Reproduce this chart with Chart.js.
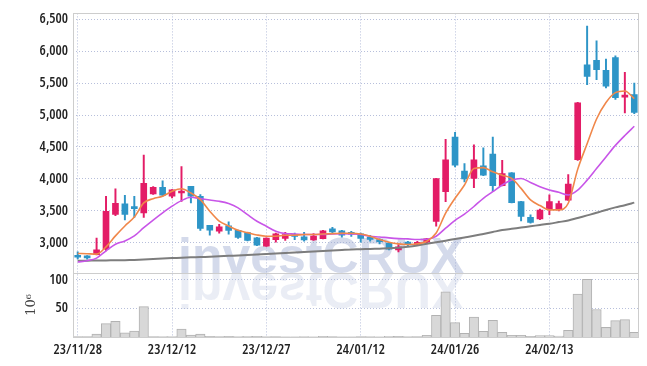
<!DOCTYPE html>
<html>
<head>
<meta charset="utf-8">
<script src="https://cdn.jsdelivr.net/npm/chart.js@4.4.1/dist/chart.umd.min.js"></script>
<style>
    html, body { margin: 0; padding: 0; background: #fff; }
    #wrap { width: 647px; height: 366px; }
</style>
</head>
<body>
<div id="wrap"><canvas id="stock_chart" width="647" height="366"></canvas></div>
<script>
var dates = [
    "23/11/28","23/11/29","23/11/30","23/12/01","23/12/04","23/12/05","23/12/06","23/12/07","23/12/08","23/12/11",
    "23/12/12","23/12/13","23/12/14","23/12/15","23/12/18","23/12/19","23/12/20","23/12/21","23/12/22","23/12/26",
    "23/12/27","23/12/28","24/01/02","24/01/03","24/01/04","24/01/05","24/01/08","24/01/09","24/01/10","24/01/11",
    "24/01/12","24/01/15","24/01/16","24/01/17","24/01/18","24/01/19","24/01/22","24/01/23","24/01/24","24/01/25",
    "24/01/26","24/01/29","24/01/30","24/01/31","24/02/01","24/02/02","24/02/05","24/02/06","24/02/07","24/02/08",
    "24/02/13","24/02/14","24/02/15","24/02/16","24/02/19","24/02/20","24/02/21","24/02/22","24/02/23","24/02/26"
];
var openP = [2800,2790,2815,2900,3445,3610,3540,3470,3765,3870, 3730,3780,3885,3730,3275,3185,3265,3195,3160,3080,
             2950,3050,3070,3110,3095,3045,3065,3220,3190,3145, 3140,3090,3030,2995,2890,2990,2975,3010,3335,3800,
             4655,4125,4010,4205,4390,3895,4095,3645,3400,3375, 3520,3530,3670,4300,5785,5855,5700,5900,5280,5320];
var highP = [2860,2800,3075,3730,3845,3745,3730,4375,3880,3970, 3835,4195,3885,3755,3275,3290,3330,3200,3165,3085,
             3080,3155,3165,3155,3165,3145,3195,3245,3195,3180, 3155,3120,3065,3000,2975,3025,3025,3070,4010,4620,
             4730,4240,4535,4485,4655,4290,4100,3650,3440,3530, 3750,3655,4070,5200,6390,6160,5875,5925,5670,5500];
var lowP  = [2750,2745,2810,2875,3425,3360,3400,3400,3760,3730, 3705,3650,3625,3195,3120,3150,3135,3070,3030,2955,
             2945,3010,3040,3050,3025,3040,3060,3145,3090,3100, 3010,3025,2985,2890,2860,2950,2965,3005,3260,3645,
             4190,3955,3865,4050,3800,3890,3625,3345,3310,3365, 3440,3500,3665,4290,5475,5555,5425,5245,5035,5020];
var closeP = [2775,2765,2890,3495,3620,3445,3535,3930,3870,3745, 3830,3805,3730,3225,3200,3250,3195,3085,3040,2965,
              3075,3140,3130,3100,3045,3105,3190,3170,3120,3135, 3070,3055,3020,2900,2940,2980,3010,3065,4005,4300,
              4215,4000,4300,4060,3895,4085,3630,3415,3320,3515, 3645,3615,3920,5190,5605,5710,5450,5270,5290,5040];
// volume in millions
var volume = [0.8,0.8,5,23.5,27.5,7.5,10.5,53,0.8,0.6, 0.6,14,3.5,5,1,0.8,1,0.6,1.2,1,
              0.6,0.8,0.5,0.5,0.6,0.5,1,0.8,0.5,0.5, 0.8,0.6,0.5,1.2,1,0.6,0.8,3,38,79,
              25,6.3,35,10,29,8,3,3,1,2.5, 2.5,1.5,11.5,75,101,48,16.7,28.7,30.5,8];
var ma5  = [2835,2830,2824,2938,3109,3264,3403,3625,3692,3729, 3806,3847,3780,3677,3496,3341,3264,3196,3160,3124,
            3104,3104,3119,3119,3130,3130,3140,3145,3150,3150, 3140,3104,3052,3011,2985,2975,2985,3026,3155,3465,
            3698,3905,4163,4178,4111,4059,4008,3853,3672,3584, 3517,3517,3620,4150,4550,4938,5196,5351,5377,5258];
var ma20 = [2700,2721,2762,2876,2979,3031,3109,3238,3357,3470, 3574,3661,3713,3692,3670,3650,3615,3548,3442,3339,
            3259,3181,3145,3140,3130,3130,3130,3140,3145,3140, 3130,3104,3093,3078,3067,3062,3052,3057,3104,3230,
            3352,3450,3569,3698,3801,3905,3982,4008,3946,3879, 3827,3791,3750,3827,3982,4163,4344,4525,4680,4824];
var ma60 = [2720,2722,2724,2726,2728,2730,2734,2740,2747,2755, 2762,2768,2774,2779,2783,2790,2797,2804,2811,2818,
            2826,2834,2843,2850,2858,2866,2873,2880,2888,2896, 2900,2905,2910,2915,2925,2940,2960,2985,3010,3035,
            3060,3085,3110,3140,3170,3200,3220,3240,3260,3280, 3300,3325,3350,3390,3430,3470,3515,3555,3590,3630];
var priceTicks = [3000,3500,4000,4500,5000,5500,6000,6500];
var volumeTicks = [50,100];

var upColor = "rgb(227,28,102)";
var downColor = "rgb(46,149,199)";
var gridColor = "rgba(165,175,210,0.8)";
var tickFont = { family: "'Open Sans', 'Noto Sans', 'Liberation Sans', sans-serif", size: 14, weight: "600 condensed" };

function candleColor(ctx) {
    var i = ctx.dataIndex;
    return closeP[i] >= openP[i] ? upColor : downColor;
}

// frame lines and the watermark
var framePlugin = {
    id: "frame",
    beforeDatasetsDraw: function (chart) {
        var ctx = chart.ctx, a = chart.chartArea, sep = chart.scales.y.bottom;
        ctx.save();
        ctx.beginPath();
        ctx.rect(a.left, a.top, a.right - a.left, a.bottom - a.top);
        ctx.clip();
        ctx.font = "bold 50px 'Liberation Sans', Arial, sans-serif";
        ctx.textBaseline = "alphabetic";
        ctx.fillStyle = "rgba(160,172,210,0.45)";
        ctx.fillText("investCRUX", a.left + 105, sep);
        ctx.translate(0, sep * 2);
        ctx.scale(1, -1);
        ctx.fillStyle = "rgba(160,172,210,0.22)";
        ctx.fillText("investCRUX", a.left + 105, sep);
        ctx.restore();
    },
    afterDraw: function (chart) {
        var ctx = chart.ctx, a = chart.chartArea, sep = chart.scales.y.bottom;
        ctx.save();
        ctx.strokeStyle = "rgb(205,205,205)";
        ctx.lineWidth = 1;
        ctx.strokeRect(Math.round(a.left) + 0.5, Math.round(a.top) + 0.5,
                       Math.round(a.right - a.left) - 1, Math.round(a.bottom - a.top));
        ctx.beginPath();
        ctx.moveTo(a.left, Math.round(sep) + 0.5);
        ctx.lineTo(a.right, Math.round(sep) + 0.5);
        ctx.stroke();
        ctx.restore();
    }
};

var ctx = document.getElementById("stock_chart");
var stockChart = new Chart(ctx, {
    type: "bar",
    data: {
        labels: dates,
        datasets: [
            { type: "line", data: ma5, borderColor: "rgb(240,135,74)", borderWidth: 1.6, pointRadius: 0,
              cubicInterpolationMode: "monotone", yAxisID: "y", order: 0 },
            { type: "line", data: ma20, borderColor: "rgb(200,85,232)", borderWidth: 1.6, pointRadius: 0,
              cubicInterpolationMode: "monotone", yAxisID: "y", order: 0 },
            { type: "line", data: ma60, borderColor: "rgb(125,125,125)", borderWidth: 2, pointRadius: 0,
              tension: 0.3, yAxisID: "y", order: 0 },
            { type: "bar", data: dates.map(function (d, i) { return [lowP[i], highP[i]]; }),
              backgroundColor: candleColor, barThickness: 1.3, grouped: false, yAxisID: "y", order: 2 },
            { type: "bar", data: dates.map(function (d, i) { return [openP[i], closeP[i]]; }),
              backgroundColor: candleColor, barThickness: 6, minBarLength: 2, grouped: false, yAxisID: "y", order: 1 },
            { type: "bar", data: volume, backgroundColor: "rgb(216,216,216)", borderColor: "rgb(178,178,178)",
              borderWidth: 1, barPercentage: 1, categoryPercentage: 1, grouped: false, yAxisID: "yVol", order: 3 }
        ]
    },
    options: {
        responsive: false,
        animation: false,
        events: [],
        layout: { padding: { top: 9, right: 8, left: 0, bottom: 0 } },
        plugins: { legend: { display: false }, tooltip: { enabled: false } },
        scales: {
            x: {
                type: "category",
                offset: true,
                afterBuildTicks: function (s) {
                    s.ticks = s.ticks.filter(function (t) { return t.value % 10 === 0; });
                },
                ticks: { autoSkip: false, maxRotation: 0, font: tickFont, color: "#222", padding: 5 },
                grid: { offset: false, color: gridColor, drawTicks: false },
                border: { display: false, dash: [1, 2] },
                afterFit: function (s) { s.height = 29; }
            },
            yVol: {
                position: "left",
                stack: "panels",
                stackWeight: 1,
                min: 0,
                max: 112,
                afterBuildTicks: function (s) {
                    s.ticks = volumeTicks.map(function (v) { return { value: v }; });
                },
                ticks: { font: tickFont, color: "#222", padding: 5 },
                title: { display: true, text: "10\u2076", color: "#444",
                         font: { family: "'DejaVu Serif', 'Liberation Serif', serif", size: 13 },
                         padding: { top: 24, bottom: 0 } },
                grid: { color: gridColor, drawTicks: false },
                border: { display: false, dash: [1, 2] },
                afterFit: function (s) { s.width = 73; }
            },
            y: {
                position: "left",
                stack: "panels",
                stackWeight: 4.05,
                min: 2530,
                max: 6590,
                afterBuildTicks: function (s) {
                    s.ticks = priceTicks.map(function (v) { return { value: v }; });
                },
                ticks: { font: tickFont, color: "#222", padding: 5,
                         callback: function (v) { return v.toLocaleString("en-US"); } },
                grid: { color: gridColor, drawTicks: false },
                border: { display: false, dash: [1, 2] },
                afterFit: function (s) { s.width = 73; }
            }
        }
    },
    plugins: [framePlugin]
});
</script>
</body>
</html>
